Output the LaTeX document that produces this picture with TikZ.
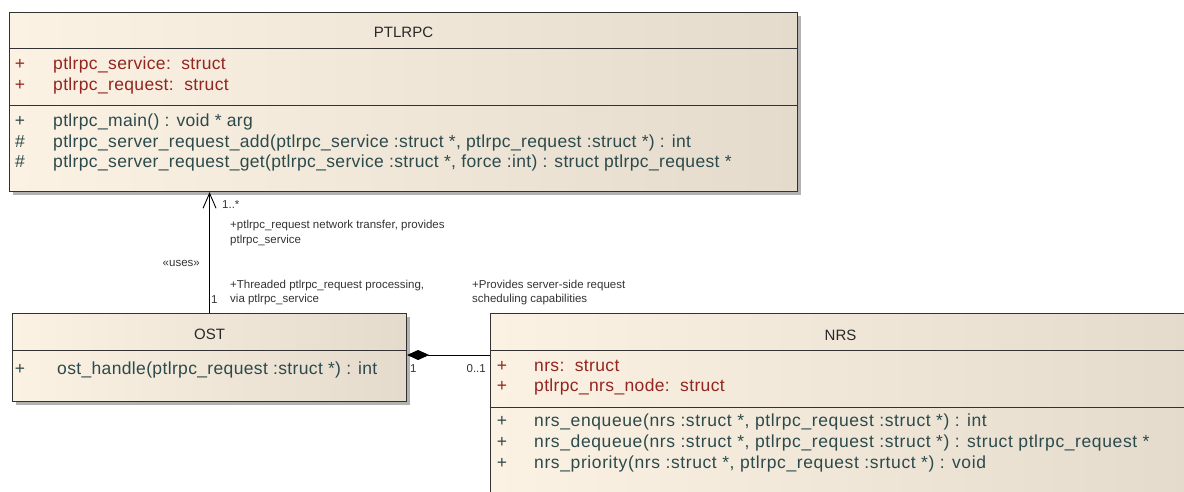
\documentclass[tikz,border=0pt]{standalone}
\usepackage{fontspec}
\setmainfont{Liberation Sans}
\newfontfamily\umlfont[LetterSpace=2.0]{Liberation Sans}
\newfontfamily\umlwidefont[LetterSpace=3.5]{Liberation Sans}
\usetikzlibrary{arrows.meta,shadows,calc,positioning}

\definecolor{attrred}{RGB}{146,38,32}
\definecolor{opteal}{RGB}{44,74,76}
\definecolor{headgray}{RGB}{40,40,40}
\definecolor{boxlight}{RGB}{252,242,227}
\definecolor{boxdark}{RGB}{228,219,205}
\definecolor{edgegray}{RGB}{50,50,50}

\tikzset{
  classbox/.style={draw=edgegray, line width=1.1pt, left color=boxlight, right color=boxdark,
    anchor=north west, inner sep=0pt,
    drop shadow={shadow xshift=3pt, shadow yshift=-3pt, fill=black, opacity=0.3}},
  sepline/.style={draw=edgegray, line width=1pt},
  classname/.style={text=headgray, font=\fontsize{15}{17}\selectfont, anchor=base, inner sep=0pt},
  attrsym/.style={text=attrred, font=\umlfont\fontsize{17.5}{20}\selectfont, anchor=base, inner sep=0pt},
  attrtext/.style={attrsym, anchor=base west},
  opsym/.style={text=opteal, font=\umlfont\fontsize{17.5}{20}\selectfont, anchor=base, inner sep=0pt},
  optext/.style={opsym, anchor=base west},
  nrsop/.style={optext, font=\umlwidefont\fontsize{17.5}{20}\selectfont},
  assoc/.style={draw=black, line width=0.9pt},
  note/.style={text=black!80, font=\fontsize{11.5}{13}\selectfont, anchor=base west, inner sep=0pt},
}

\begin{document}
\begin{tikzpicture}[x=1pt,y=1pt,yscale=-1,xscale=1]
\useasboundingbox (0,0) rectangle (1184,491);
\clip (0,0) rectangle (1184,491);

%Class: PTLRPC
\node [classbox, minimum width=788pt, minimum height=179pt] (ptlrpc) at (9,12) {};
\draw [sepline] ($(ptlrpc.north west)+(0,36)$) -- ($(ptlrpc.north east)+(0,36)$);
\draw [sepline] ($(ptlrpc.north west)+(0,93)$) -- ($(ptlrpc.north east)+(0,93)$);
\node [classname] (ptlrpcname) at ($(ptlrpc.north)+(0,25)$) {PTLRPC};
% attributes
\node [attrsym] (ptlrpcas1) at (20,69) {+};
\node [attrtext] (ptlrpca1) at (53,69) {ptlrpc\_service:\ \ struct};
\node [attrsym] (ptlrpcas2) at (20,90) {+};
\node [attrtext] (ptlrpca2) at (53,90) {ptlrpc\_request:\ \ struct};
% operations
\node [opsym] (ptlrpcos1) at (20,126) {+};
\node [optext] (ptlrpco1) at (53,126) {ptlrpc\_main() : void * arg};
\node [opsym] (ptlrpcos2) at (20,147) {\#};
\node [optext] (ptlrpco2) at (53,147) {ptlrpc\_server\_request\_add(ptlrpc\_service :struct *, ptlrpc\_request :struct *) : int};
\node [opsym] (ptlrpcos3) at (20,167) {\#};
\node [optext] (ptlrpco3) at (53,167) {ptlrpc\_server\_request\_get(ptlrpc\_service :struct *, force :int) : struct ptlrpc\_request *};

%Class: OST
\node [classbox, minimum width=394pt, minimum height=88pt] (ost) at (12,313) {};
\draw [sepline] ($(ost.north west)+(0,37)$) -- ($(ost.north east)+(0,37)$);
\node [classname] (ostname) at ($(ost.north)+(0,26)$) {OST};
\node [opsym] (ostos1) at (20,374) {+};
\node [optext] (osto1) at (57,374) {ost\_handle(ptlrpc\_request :struct *) : int};

%Class: NRS
\node [classbox, minimum width=700pt, minimum height=200pt] (nrs) at (490,313) {};
\draw [sepline] ($(nrs.north west)+(0,37)$) -- ($(nrs.north east)+(0,37)$);
\draw [sepline] ($(nrs.north west)+(0,94)$) -- ($(nrs.north east)+(0,94)$);
\node [classname] (nrsname) at ($(nrs.north)+(0,27)$) {NRS};
% attributes
\node [attrsym] (nrsas1) at (502,371) {+};
\node [attrtext] (nrsa1) at (534,371) {nrs:\ \ struct};
\node [attrsym] (nrsas2) at (502,391) {+};
\node [attrtext] (nrsa2) at (534,391) {ptlrpc\_nrs\_node:\ \ struct};
% operations
\node [opsym] (nrsos1) at (502,426) {+};
\node [nrsop] (nrso1) at (534,426) {nrs\_enqueue(nrs :struct *, ptlrpc\_request :struct *) : int};
\node [opsym] (nrsos2) at (502,447) {+};
\node [nrsop] (nrso2) at (534,447) {nrs\_dequeue(nrs :struct *, ptlrpc\_request :struct *) : struct ptlrpc\_request *};
\node [opsym] (nrsos3) at (502,468) {+};
\node [nrsop] (nrso3) at (534,468) {nrs\_priority(nrs :struct *, ptlrpc\_request :srtuct *) : void};

%Association OST -> PTLRPC
\draw [assoc, -{Straight Barb[length=15pt,width=13pt,line width=0.9pt]}] (ost.north) -- (ost.north |- ptlrpc.south);
\node [note] (usesmult) at (222,208) {1..*};
\node [note] (usesrole1) at (230,228) {+ptlrpc\_request network transfer, provides};
\node [note] (usesrole1b) at (230,243) {ptlrpc\_service};
\node [note, anchor=base east] (usesstereo) at (200,266) {«uses»};
\node [note] (usesrole2) at (230,288) {+Threaded ptlrpc\_request processing,};
\node [note] (usesrole2b) at (230,302) {via ptlrpc\_service};
\node [note] (usesone) at (211,303) {1};

%Composition NRS <>- OST
\coordinate (ostport) at ($(ost.north east)+(0,42)$);
\draw [assoc, {Diamond[length=22pt,width=10pt]}-] (ostport) -- (ostport -| nrs.west);
\node [note] (compone) at (410,372) {1};
\node [note, anchor=base east] (compmult) at (486,372) {0..1};
\node [note] (comprole1) at (472,288) {+Provides server-side request};
\node [note] (comprole1b) at (472,302) {scheduling capabilities};

\end{tikzpicture}
\end{document}
